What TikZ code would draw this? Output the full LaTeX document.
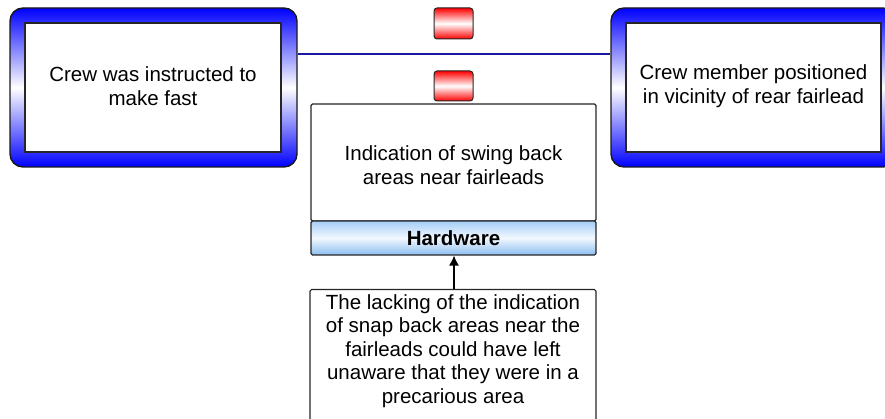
\documentclass[tikz,border=0pt]{standalone}
\usepackage{fontspec}
\setmainfont{Liberation Sans}
\usetikzlibrary{arrows.meta}
\definecolor{navyline}{RGB}{25,25,160}
\definecolor{hwtop}{RGB}{165,205,248}
\definecolor{hwbot}{RGB}{140,190,240}
\begin{document}
\begin{tikzpicture}[x=1pt,y=-1pt,
  outerbox/.style={draw=black!90, line width=1.4pt, rounded corners=13pt,
    top color=blue, bottom color=blue, middle color=white},
  innerbox/.style={draw=black!85, line width=1.1pt, fill=white, align=center,
    font=\fontsize{20.5}{24}\selectfont, inner sep=0pt},
  barrier/.style={draw=black!85, line width=1pt, rounded corners=3pt,
    top color=red, bottom color=red, middle color=white,
    minimum width=39pt, inner sep=0pt},
  hwband/.style={draw=black!85, line width=1.1pt, top color=hwtop, bottom color=hwbot,
    middle color=white!85!hwtop, font=\fontsize{20.5}{24}\selectfont\bfseries, inner sep=0pt},
  plainbox/.style={draw=black!85, line width=1.1pt, fill=white, rounded corners=1.5pt, inner sep=0pt},
  bodytext/.style={align=center, inner sep=0pt, font=\fontsize{20.5}{24}\selectfont},
]
\useasboundingbox (0,0) rectangle (885,419);
\clip (0,0) rectangle (885,419);

% left event
\node[outerbox, minimum width=287pt, minimum height=159pt] (Lo) at (153.5,87.5) {};
\node[innerbox, minimum width=256pt, minimum height=129pt] (L) at (153,87.5) {};
\node[bodytext] (Lt) at ([yshift=1.5pt]L.center) {Crew was instructed to\\make fast};

% right event
\node[outerbox, minimum width=285pt, minimum height=159pt] (Ro) at (753.5,87.5) {};
\node[innerbox, minimum width=255pt, minimum height=129pt] (R) at (753.5,87.5) {};
\node[bodytext] (Rt) at ([yshift=1pt]R.center) {Crew member positioned\\in vicinity of rear fairlead};

% connecting line
\draw[navyline, line width=2.2pt] ([yshift=-47pt]Lo.north east) -- ([yshift=-47pt]Ro.north west);

% barriers
\node[barrier, minimum height=31pt] (b1) at (453.5,23.5) {};
\node[barrier, minimum height=30pt] (b2) at (453.5,86) {};

% barrier box
\node[innerbox, rounded corners=1.5pt, minimum width=285pt, minimum height=117pt] (M) at (453.5,162.5) {};
\node[bodytext] (Mt) at ([yshift=-2.5pt]M.center) {Indication of swing back\\areas near fairleads};
\node[hwband, rounded corners=1.5pt, minimum width=285pt, minimum height=34pt] (H) at (453.5,238) {Hardware};

% cause box
\node[plainbox, minimum width=286pt, minimum height=150pt, anchor=north] (B) at (453,289) {};
\node[bodytext, anchor=north, font=\fontsize{20.5}{23.5}\selectfont] (Bt) at (453,294)
  {The lacking of the indication\\of snap back areas near the\\fairleads could have left\\unaware that they were in a\\precarious area};

\draw[line width=1.3pt, -{Latex[length=10pt,width=10pt]}] (B.north -| 454,0) -- (H.south -| 454,0);
\end{tikzpicture}
\end{document}
